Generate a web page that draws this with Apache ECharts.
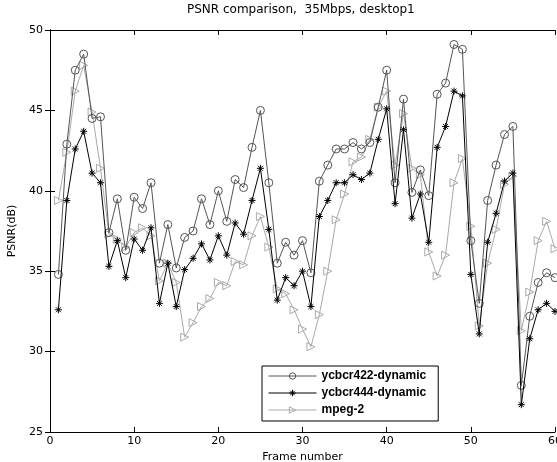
<!DOCTYPE html>
<html>
<head>
<meta charset="utf-8">
<script src="https://cdn.jsdelivr.net/npm/echarts@6/dist/echarts.min.js"></script>
<style>
    html, body { margin: 0; padding: 0; background: #fff; }
    #chart { width: 557px; height: 462px; }
</style>
</head>
<body>
<div id="chart"></div>
<script>
    // frame numbers
    var frames = [1, 2, 3, 4, 5, 6, 7, 8, 9, 10, 11, 12, 13, 14, 15, 16, 17, 18, 19, 20,
        21, 22, 23, 24, 25, 26, 27, 28, 29, 30, 31, 32, 33, 34, 35, 36, 37, 38, 39, 40,
        41, 42, 43, 44, 45, 46, 47, 48, 49, 50, 51, 52, 53, 54, 55, 56, 57, 58, 59, 60];

    var ycbcr422 = [34.8, 42.9, 47.5, 48.5, 44.5, 44.6, 37.4, 39.5, 36.3, 39.6,
        38.9, 40.5, 35.5, 37.9, 35.2, 37.1, 37.5, 39.5, 37.9, 40.0,
        38.1, 40.7, 40.2, 42.7, 45.0, 40.5, 35.5, 36.8, 36.0, 36.9,
        34.9, 40.6, 41.6, 42.6, 42.6, 43.0, 42.6, 43.0, 45.2, 47.5,
        40.5, 45.7, 39.9, 41.3, 39.7, 46.0, 46.7, 49.1, 48.8, 36.9,
        33.0, 39.4, 41.6, 43.5, 44.0, 27.9, 32.2, 34.3, 34.9, 34.6];

    var ycbcr444 = [32.6, 39.4, 42.6, 43.7, 41.1, 40.5, 35.3, 36.9, 34.6, 37.0,
        36.3, 37.7, 33.0, 35.5, 32.8, 35.1, 35.8, 36.7, 35.7, 37.2,
        36.0, 38.0, 37.3, 39.4, 41.4, 37.6, 33.2, 34.6, 34.1, 35.0,
        32.8, 38.4, 39.4, 40.5, 40.5, 41.0, 40.7, 41.1, 43.2, 45.1,
        39.2, 43.8, 38.3, 39.8, 36.8, 42.7, 44.0, 46.2, 45.9, 34.8,
        31.1, 36.8, 38.6, 40.6, 41.1, 26.7, 30.8, 32.6, 33.0, 32.5];

    var mpeg2 = [39.4, 42.4, 46.2, 47.8, 44.9, 41.4, 37.3, 37.0, 36.5, 37.4,
        37.7, 37.2, 34.4, 35.5, 34.3, 30.9, 31.8, 32.8, 33.3, 34.3,
        34.1, 35.6, 35.4, 37.2, 38.4, 36.5, 33.9, 33.6, 32.6, 31.4,
        30.3, 32.3, 35.0, 38.2, 39.8, 41.8, 42.1, 43.2, 45.2, 46.2,
        41.6, 44.8, 41.4, 41.0, 36.2, 34.7, 36.0, 40.5, 42.0, 37.8,
        31.6, 35.5, 37.6, 40.4, 40.9, 31.3, 33.7, 36.9, 38.1, 36.4];

    var seriesNames = ['ycbcr422-dynamic', 'ycbcr444-dynamic', 'mpeg-2'];

    function pairs(vals) {
        return frames.map(function (f, i) { return [f, vals[i]]; });
    }

    var font = '"DejaVu Sans", sans-serif';
    var legendFont = 'Arial, "Liberation Sans", sans-serif';
    var starPath = 'path://M5,0L5,10M0,5L10,5M1.5,1.5L8.5,8.5M8.5,1.5L1.5,8.5';
    var triPath = 'path://M0,0L10,5L0,10Z';

    // box axis (matlab style), ticks inside
    function boxAxis(pos, labels) {
        return {
            type: 'value',
            position: pos,
            axisLine: { show: true, lineStyle: { color: '#000', width: 1 } },
            axisTick: { show: true, inside: true, length: 5, lineStyle: { color: '#000' } },
            axisLabel: { show: labels, color: '#000', fontSize: 11, fontFamily: font },
            splitLine: { show: false }
        };
    }

    var xBottom = boxAxis('bottom', true);
    xBottom.min = 0; xBottom.max = 60; xBottom.interval = 10;
    xBottom.name = 'Frame number';
    xBottom.nameLocation = 'middle';
    xBottom.nameGap = 17;
    xBottom.nameTextStyle = { color: '#000', fontSize: 11, fontFamily: font };
    xBottom.axisLabel.margin = 4;
    var xTop = boxAxis('top', false);
    xTop.min = 0; xTop.max = 60; xTop.interval = 10;

    var yLeft = boxAxis('left', true);
    yLeft.min = 25; yLeft.max = 50; yLeft.interval = 5;
    yLeft.name = 'PSNR(dB)';
    yLeft.nameLocation = 'middle';
    yLeft.nameGap = 32;
    yLeft.nameTextStyle = { color: '#000', fontSize: 11, fontFamily: font };
    yLeft.axisLabel.margin = 7;
    var yRight = boxAxis('right', false);
    yRight.min = 25; yRight.max = 50; yRight.interval = 5;

    var chart = echarts.init(document.getElementById('chart'), null, { renderer: 'canvas' });
    chart.setOption({
        animation: false,
        backgroundColor: '#fff',
        title: {
            text: 'PSNR comparison,  35Mbps, desktop1',
            left: 187,
            top: 4,
            padding: 0,
            textStyle: { color: '#000', fontSize: 12, fontWeight: 'normal', fontFamily: font }
        },
        grid: { left: 50, right: 2, top: 30, bottom: 30, outerBoundsMode: 'none' },
        xAxis: [xBottom, xTop],
        yAxis: [yLeft, yRight],
        legend: {
            data: seriesNames,
            orient: 'vertical',
            left: 262,
            top: 366,
            backgroundColor: '#fff',
            borderColor: '#000',
            borderWidth: 1,
            padding: [4, 12, 5, 6],
            itemGap: 5,
            itemWidth: 48,
            itemHeight: 8,
            lineStyle: { width: 1 },
            itemStyle: { color: 'none', borderWidth: 1 },
            textStyle: { color: '#000', fontSize: 12, fontWeight: 'bold', fontFamily: legendFont }
        },
        series: [{
            name: seriesNames[0],
            type: 'line',
            data: pairs(ycbcr422),
            symbol: 'circle',
            symbolSize: 8,
            lineStyle: { color: '#555', width: 1 },
            itemStyle: { color: 'none', borderColor: '#555', borderWidth: 1 },
            z: 3
        }, {
            name: seriesNames[1],
            type: 'line',
            data: pairs(ycbcr444),
            symbol: starPath,
            symbolSize: 7,
            lineStyle: { color: '#000', width: 1 },
            itemStyle: { color: 'none', borderColor: '#000', borderWidth: 1 },
            z: 4
        }, {
            name: seriesNames[2],
            type: 'line',
            data: pairs(mpeg2),
            symbol: triPath,
            symbolSize: 8,
            lineStyle: { color: '#aaa', width: 1 },
            itemStyle: { color: 'none', borderColor: '#aaa', borderWidth: 1 },
            z: 2
        }]
    });
</script>
</body>
</html>
